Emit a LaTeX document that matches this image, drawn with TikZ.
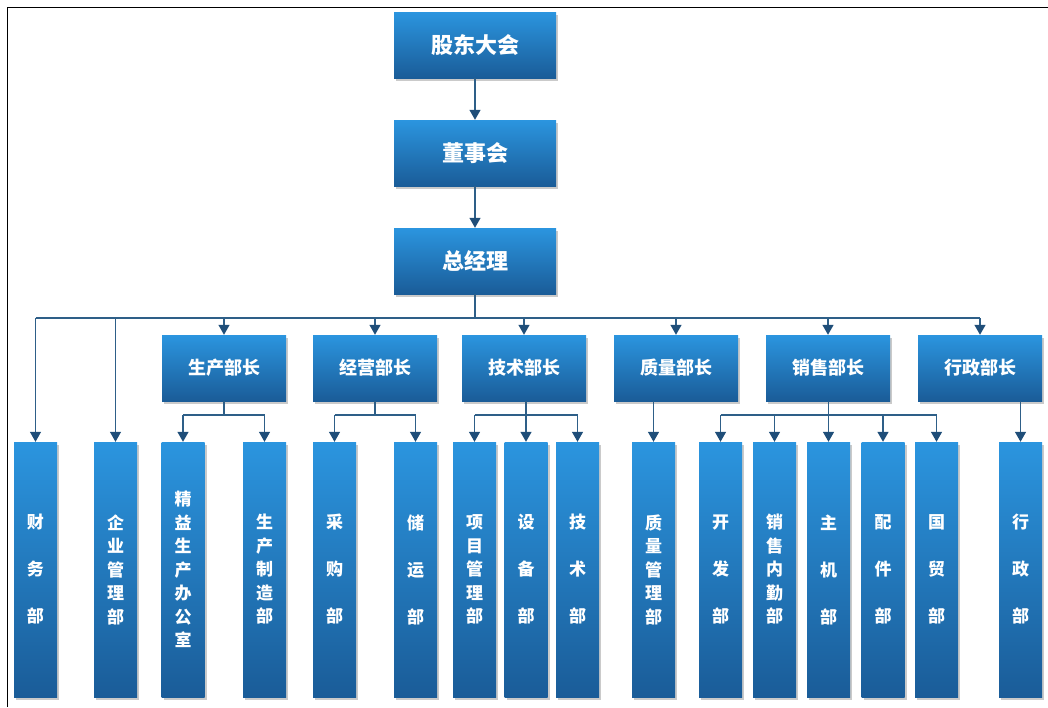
\documentclass[tikz,border=0pt]{standalone}
\usepackage{fontspec}
\newfontfamily\cjk{Noto Sans CJK SC}
\usetikzlibrary{shadows,arrows.meta}
\definecolor{boxtop}{HTML}{2B95DF}
\definecolor{boxbot}{HTML}{1A5C98}
\definecolor{lnc}{HTML}{2E5F88}
\definecolor{arc}{HTML}{1F4E79}
\tikzset{
 box/.style={draw=none, top color=boxtop, bottom color=boxbot, text=white, inner sep=0pt,
   drop shadow={shadow xshift=2pt,shadow yshift=-2.5pt,opacity=0.35,fill=black!60}},
 topbox/.style={box, minimum width=162pt, minimum height=66pt, font=\cjk\bfseries\fontsize{22}{26}\selectfont},
 midbox/.style={box, minimum width=124pt, minimum height=66pt, font=\cjk\bfseries\fontsize{18}{21}\selectfont},
 colbox/.style={box, minimum width=43pt, minimum height=255pt, align=center, font=\cjk\bfseries\fontsize{17}{23.5}\selectfont},
 widecol/.style={colbox, font=\cjk\bfseries\fontsize{17}{47}\selectfont},
 link/.style={draw=lnc, line width=1.3pt},
 conn/.style={link, -{Triangle[width=11pt,length=10pt,fill=arc,color=arc]}},
 frame/.style={draw=black, line width=1pt},
}
\begin{document}
\begin{tikzpicture}[x=1pt,y=-1pt]
\useasboundingbox (0,0) rectangle (1048,707);
% frame
\coordinate (f1) at (7.5,707);
\coordinate (f2) at (7.5,7.5);
\coordinate (f3) at (1048,7.5);
\draw[frame] (f1) -- (f2) -- (f3);

% top
\node[topbox] (gd)  at (475,45)  {股东大会};
\node[topbox] (dsh) at (475,153) {董事会};
\node[topbox] (zjl) at (475,261) {总经理};

% middle
\node[midbox] (scbz) at (224,368) {生产部长};
\node[midbox] (jybz) at (375,368) {经营部长};
\node[midbox] (jsbz) at (524,368) {技术部长};
\node[midbox] (zlbz) at (676,368) {质量部长};
\node[midbox] (xsbz) at (828,368) {销售部长};
\node[midbox] (xzbz) at (980,368) {行政部长};

% bottom
\node[widecol] (cw)   at (35.5,569.5)  {财\\务\\部};
\node[colbox]  (qygl) at (115.5,569.5) {企\\业\\管\\理\\部};
\node[colbox]  (jy)   at (183,569.5)   {精\\益\\生\\产\\办\\公\\室};
\node[colbox]  (sczz) at (264.5,569.5) {生\\产\\制\\造\\部};
\node[widecol] (cg)   at (334.5,569.5) {采\\购\\部};
\node[widecol] (cy)   at (415.5,569.5) {储\\运\\部};
\node[colbox]  (xmgl) at (474.5,569.5) {项\\目\\管\\理\\部};
\node[widecol] (sb)   at (526,569.5)   {设\\备\\部};
\node[widecol] (js)   at (577.5,569.5) {技\\术\\部};
\node[colbox]  (zlgl) at (653.5,569.5) {质\\量\\管\\理\\部};
\node[widecol] (kf)   at (720.5,569.5) {开\\发\\部};
\node[colbox]  (xsnq) at (774.5,569.5) {销\\售\\内\\勤\\部};
\node[widecol] (zj)   at (828.5,569.5) {主\\机\\部};
\node[widecol] (pj)   at (883,569.5)   {配\\件\\部};
\node[widecol] (gm)   at (936.5,569.5) {国\\贸\\部};
\node[widecol] (xz)   at (1020.5,569.5){行\\政\\部};

% top chain
\draw[conn] (gd) -- (dsh);
\draw[conn] (dsh) -- (zjl);

% main bus
\coordinate (bus) at (0,318);
\draw[link] (zjl.south) -- (zjl.south |- bus);
\draw[link] (cw.north |- bus) -- (xzbz.north |- bus);
\draw[conn] (cw.north |- bus) -- (cw.north);
\draw[conn] (qygl.north |- bus) -- (qygl.north);
\foreach \n in {scbz,jybz,jsbz,zlbz,xsbz,xzbz}
  \draw[conn] (\n.north |- bus) -- (\n.north);

% sub buses
\coordinate (sub) at (0,415);
\draw[link] (scbz.south) -- (scbz.south |- sub);
\draw[link] (jy.north |- sub) -- (sczz.north |- sub);
\foreach \n in {jy,sczz} \draw[conn] (\n.north |- sub) -- (\n.north);

\draw[link] (jybz.south) -- (jybz.south |- sub);
\draw[link] (cg.north |- sub) -- (cy.north |- sub);
\foreach \n in {cg,cy} \draw[conn] (\n.north |- sub) -- (\n.north);

\draw[link] (sb.north |- jsbz.south) -- (sb.north |- sub);
\draw[link] (xmgl.north |- sub) -- (js.north |- sub);
\foreach \n in {xmgl,sb,js} \draw[conn] (\n.north |- sub) -- (\n.north);

\draw[conn] (zlgl.north |- zlbz.south) -- (zlgl.north);

\draw[link] (zj.north |- xsbz.south) -- (zj.north |- sub);
\draw[link] (kf.north |- sub) -- (gm.north |- sub);
\foreach \n in {kf,xsnq,zj,pj,gm} \draw[conn] (\n.north |- sub) -- (\n.north);

\draw[conn] (xz.north |- xzbz.south) -- (xz.north);
\end{tikzpicture}
\end{document}
